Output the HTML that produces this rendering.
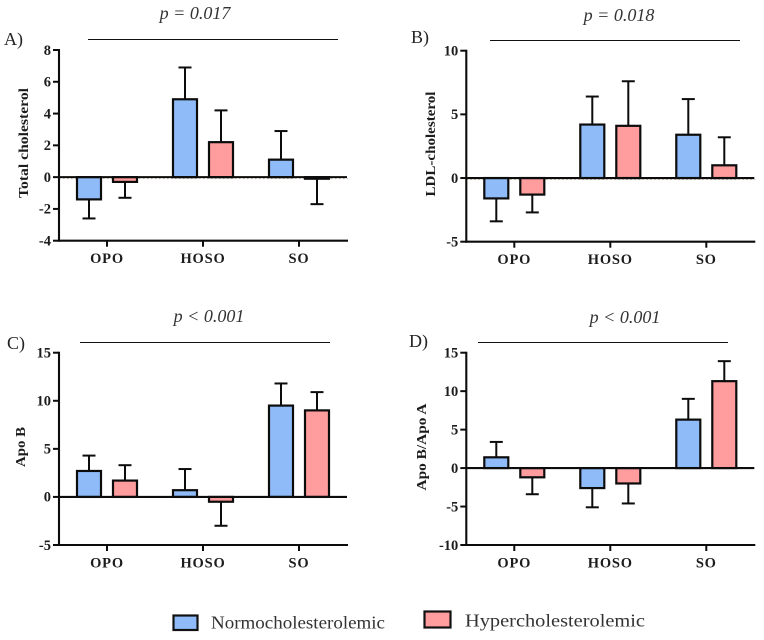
<!DOCTYPE html>
<html>
<head>
<meta charset="utf-8">
<title>Cholesterol change by diet</title>
<style>
html,body{margin:0;padding:0;background:#fff;width:764px;height:640px;overflow:hidden}
svg{display:block}
text{font-family:"Liberation Serif",serif;fill:#1c1c1c}
.tick{font-size:14.5px;font-weight:bold;text-anchor:end}
.cat{font-size:14.5px;font-weight:bold;text-anchor:middle;letter-spacing:.8px}
.ytitle{font-size:13.5px;font-weight:bold;text-anchor:middle}
.ptext{font-size:18px;font-style:italic;text-anchor:middle;fill:#333}
.letter{font-size:18px;fill:#222}
.legend{font-size:17.5px;fill:#333}
</style>
</head>
<body>
<svg id="figure" width="764" height="640" viewBox="0 0 764 640" xmlns="http://www.w3.org/2000/svg">
  <g>
    <rect x="173.5" y="615.5" width="24" height="14.5" fill="#8fbcf9" stroke="#111" stroke-width="2.2"/>
    <text class="legend" x="211" y="628.5" textLength="174" lengthAdjust="spacingAndGlyphs">Normocholesterolemic</text>
    <rect x="424.5" y="611.5" width="26" height="16" fill="#ff9c9e" stroke="#111" stroke-width="2.2"/>
    <text class="legend" x="465" y="626.5" textLength="180" lengthAdjust="spacingAndGlyphs">Hypercholesterolemic</text>
  </g>
</svg>
<script>
const categories = ['OPO', 'HOSO', 'SO'];

const normoA = [-1.4, 4.9, 1.1];
const hyperA = [-0.3, 2.2, -0.1];
const normoErrEndA = [-2.6, 6.9, 2.9];
const hyperErrEndA = [-1.3, 4.2, -1.7];
const ticksA = [-4, -2, 0, 2, 4, 6, 8];

const normoB = [-1.6, 4.2, 3.4];
const hyperB = [-1.3, 4.1, 1.0];
const normoErrEndB = [-3.4, 6.4, 6.2];
const hyperErrEndB = [-2.7, 7.6, 3.2];
const ticksB = [-5, 0, 5, 10];

const normoC = [2.7, 0.7, 9.5];
const hyperC = [1.7, -0.5, 9.0];
const normoErrEndC = [4.3, 2.9, 11.8];
const hyperErrEndC = [3.3, -3.0, 10.9];
const ticksC = [-5, 0, 5, 10, 15];

const normoD = [1.4, -2.6, 6.3];
const hyperD = [-1.2, -2.0, 11.3];
const normoErrEndD = [3.4, -5.1, 9.0];
const hyperErrEndD = [-3.4, -4.6, 13.9];
const ticksD = [-10, -5, 0, 5, 10, 15];

const NS = 'http://www.w3.org/2000/svg';
const svg = document.getElementById('figure');

function make(tag, parent, attrs, text) {
  const el = document.createElementNS(NS, tag);
  for (const k in attrs) el.setAttribute(k, attrs[k]);
  if (text !== undefined) el.textContent = text;
  parent.appendChild(el);
  return el;
}

function drawPanel(p) {
  const g = make('g', svg, {});
  
  

  const yMin = p.ticks[0];
  const yMax = p.ticks[p.ticks.length - 1];
  const yScale = v => p.bottom + (v - yMin) * (p.top - p.bottom) / (yMax - yMin);
  const xScale = i => p.left + 48 + i * 96;
  const zero = yScale(0);
  const right = p.left + 289;
  const ink = '#0c0c0c';

  const letter = make('text', g, {class: 'letter', x: p.letterX, y: p.letterY}, p.id + ')');
  
  

  const pval = make('text', g, {class: 'ptext', x: p.pX, y: p.pY}, p.pText);
  
  

  const rule = make('line', g, {x1: p.ruleX, x2: p.ruleX + 250, y1: p.ruleY, y2: p.ruleY, stroke: '#111', 'stroke-width': 1.1});
  
  

  const title = make('text', g, {class: 'ytitle', transform: 'translate(' + p.titleX + ',' + p.titleY + ') rotate(-90)', textLength: p.titleLen, lengthAdjust: 'spacingAndGlyphs'}, p.title);
  
  

  if (p.dotted) {
    const dots = make('line', g, {x1: p.left, x2: right, y1: zero + 1.5, y2: zero + 1.5, stroke: '#c9b9a0', 'stroke-width': 1, 'stroke-dasharray': '1.5 2.5'});
    
    
  }

  const drawBar = (value, end, cx, fill, name) => {
    const y0 = yScale(value);
    const yEnd = yScale(end);
    const stem = make('line', g, {x1: cx, x2: cx, y1: y0, y2: yEnd, stroke: ink, 'stroke-width': 2});
    
    
    const cap = make('line', g, {x1: cx - 6.5, x2: cx + 6.5, y1: yEnd, y2: yEnd, stroke: ink, 'stroke-width': 2});
    
    
    const bar = make('rect', g, {x: cx - 12, y: Math.min(y0, zero), width: 24, height: Math.abs(y0 - zero), fill: fill, stroke: ink, 'stroke-width': 2.2});
    
    
  };

  categories.forEach((cat, i) => {
    const key = cat.toLowerCase();
    drawBar(p.normo[i], p.normoEnd[i], xScale(i) - 18, '#8fbcf9', 'bar-' + key + '-normo');
    drawBar(p.hyper[i], p.hyperEnd[i], xScale(i) + 18, '#ff9c9e', 'bar-' + key + '-hyper');

    const tick = make('line', g, {x1: xScale(i), x2: xScale(i), y1: p.bottom, y2: p.bottom + 6, stroke: ink, 'stroke-width': 2});
    
    
    const lab = make('text', g, {class: 'cat', x: xScale(i), y: p.bottom + 22.5}, cat);
    
    
  });

  p.ticks.forEach(t => {
    const y = yScale(t);
    const tick = make('line', g, {x1: p.left - 6, x2: p.left, y1: y, y2: y, stroke: ink, 'stroke-width': 2});
    
    
    const lab = make('text', g, {class: 'tick', x: p.left - 8, y: y + 4.8}, String(t));
    
    
  });

  const yAxis = make('line', g, {x1: p.left, x2: p.left, y1: p.top - 1, y2: p.bottom + 1, stroke: ink, 'stroke-width': 2.1});
  
  
  const xAxis = make('line', g, {x1: p.left, x2: right, y1: p.bottom, y2: p.bottom, stroke: ink, 'stroke-width': 2.1});
  
  
  const zeroLine = make('line', g, {x1: p.left, x2: right - 1, y1: zero, y2: zero, stroke: ink, 'stroke-width': 2.1});
  
  
}

drawPanel({id: 'A', normo: normoA, hyper: hyperA, normoEnd: normoErrEndA, hyperEnd: hyperErrEndA, ticks: ticksA,
  left: 59, top: 50, bottom: 240.7, title: 'Total cholesterol', titleX: 28, titleY: 143, titleLen: 110,
  pText: 'p = 0.017', pX: 195, pY: 19, ruleX: 88, ruleY: 39.5, letterX: 4, letterY: 45, dotted: true});

drawPanel({id: 'B', normo: normoB, hyper: hyperB, normoEnd: normoErrEndB, hyperEnd: hyperErrEndB, ticks: ticksB,
  left: 466.3, top: 50.7, bottom: 241.7, title: 'LDL-cholesterol', titleX: 435, titleY: 144, titleLen: 105,
  pText: 'p = 0.018', pX: 619, pY: 21, ruleX: 490, ruleY: 40.5, letterX: 411, letterY: 43, dotted: true});

drawPanel({id: 'C', normo: normoC, hyper: hyperC, normoEnd: normoErrEndC, hyperEnd: hyperErrEndC, ticks: ticksC,
  left: 59, top: 352.7, bottom: 545, title: 'Apo B', titleX: 25, titleY: 447, titleLen: 40,
  pText: 'p < 0.001', pX: 209, pY: 322, ruleX: 80, ruleY: 342.5, letterX: 7, letterY: 349, dotted: false});

drawPanel({id: 'D', normo: normoD, hyper: hyperD, normoEnd: normoErrEndD, hyperEnd: hyperErrEndD, ticks: ticksD,
  left: 466.3, top: 352.7, bottom: 545, title: 'Apo B/Apo A', titleX: 426, titleY: 447, titleLen: 87,
  pText: 'p < 0.001', pX: 625, pY: 323, ruleX: 478, ruleY: 342.5, letterX: 409, letterY: 347, dotted: false});
</script>
</body>
</html>
